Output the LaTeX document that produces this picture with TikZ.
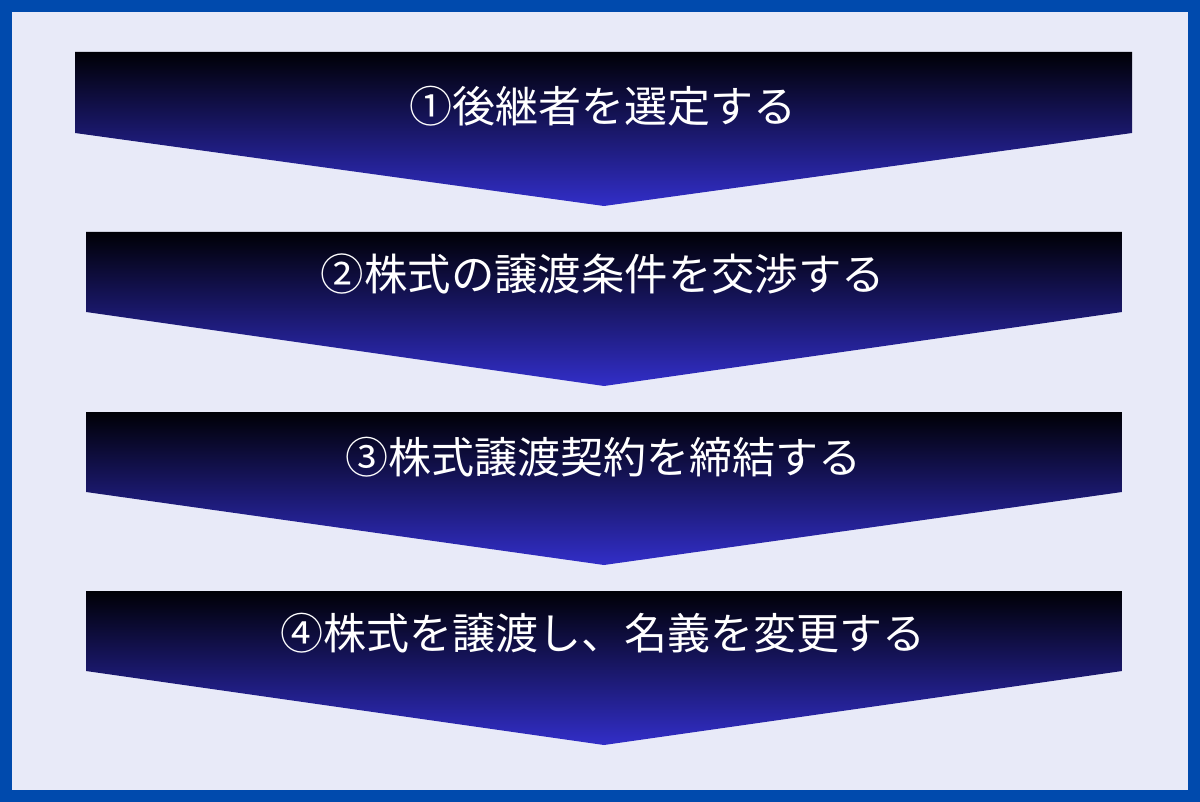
\documentclass[tikz,border=0pt]{standalone}
\usepackage{fontspec}
\newfontfamily\jpfont{Noto Sans CJK JP}
\definecolor{frameblue}{RGB}{0,74,173}
\definecolor{bglav}{RGB}{232,234,248}
\definecolor{chevtop}{RGB}{0,0,6}
\definecolor{chevbot}{RGB}{50,46,200}
\tikzset{
  chevron/.style={top color=chevtop, bottom color=chevbot, draw=none},
  steplabel/.style={text=white, inner sep=0pt, anchor=center, font=\jpfont\fontsize{43}{43}\selectfont}
}
\begin{document}
\begin{tikzpicture}[x=1pt,y=-1pt]
\useasboundingbox (0,0) rectangle (1200,802);
\fill[frameblue] (0,0) rectangle (1200,802);
\fill[bglav] (12,12) rectangle (1188,790);
% chevrons
\path[chevron] (75,52) -- (1132,52) -- (1132,133) -- (604,206) -- (75,133) -- cycle;
\path[chevron] (86,232) -- (1122,232) -- (1122,312) -- (604,386) -- (86,312) -- cycle;
\path[chevron] (86,412) -- (1122,412) -- (1122,492) -- (604,565) -- (86,492) -- cycle;
\path[chevron] (86,591) -- (1122,591) -- (1122,671) -- (604,745) -- (86,671) -- cycle;
% labels
\node[steplabel] (s1) at (603,106) {①後継者を選定する};
\node[steplabel, font=\jpfont\fontsize{43.4}{43.4}\selectfont] (s2) at (603,274) {②株式の譲渡条件を交渉する};
\node[steplabel] (s3) at (603,457) {③株式譲渡契約を締結する};
\node[steplabel] (s4) at (603,633) {④株式を譲渡し、名義を変更する};
\end{tikzpicture}
\end{document}
